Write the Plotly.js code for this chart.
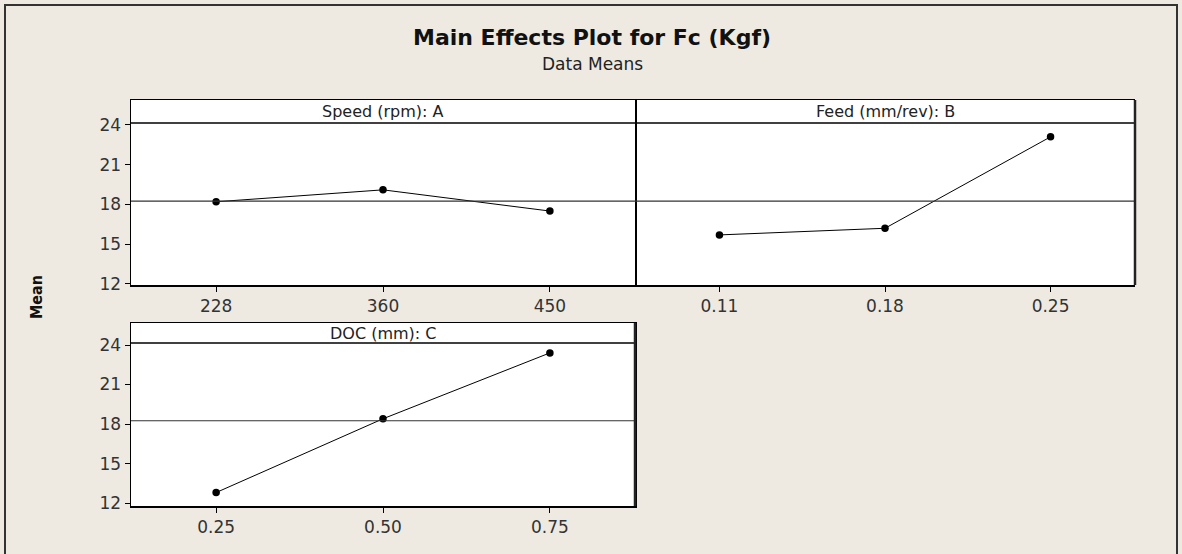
<!DOCTYPE html>
<html>
<head>
<meta charset="utf-8">
<script src="https://cdn.plot.ly/plotly-3.0.1.min.js"></script>
<style>
html,body{margin:0;padding:0;background:#EEEAE1;}
#chart{width:1182px;height:554px;}
</style>
</head>
<body>
<div id="chart"></div>
<script>
// ---- Data ----
const speedLevels = ["228", "360", "450"];
const speedMeans  = [18.2, 19.1, 17.5];

const feedLevels  = ["0.11", "0.18", "0.25"];
const feedMeans   = [15.7, 16.2, 23.1];

const docLevels   = ["0.25", "0.50", "0.75"];
const docMeans    = [12.8, 18.4, 23.4];

const grandMean   = 18.25;
const yTicks      = [12, 15, 18, 21, 24];

const panelTitles = ["Speed (rpm): A", "Feed (mm/rev): B", "DOC (mm): C"];
const chartTitle  = "Main Effects Plot for Fc (Kgf)";
const chartSub    = "Data Means";
const yTitle      = "Mean";

// ---- Layout helpers ----
const W = 1182, H = 554;
const px = v => v / W;
const py = v => 1 - v / H;
const FONT = "DejaVu Sans";
const FONTC = "DejaVu Sans Condensed";

function trace(x, y, xa, ya) {
  return {
    x: x, y: y, xaxis: xa, yaxis: ya, type: "scatter", mode: "lines+markers",
    line: {color: "#000", width: 1},
    marker: {color: "#000", size: 7.5},
    hoverinfo: "x+y", showlegend: false
  };
}

const data = [
  trace(speedLevels, speedMeans, "x", "y"),
  trace(feedLevels, feedMeans, "x2", "y2"),
  trace(docLevels, docMeans, "x3", "y3")
];

const TICKFONT = {family: FONT, size: 17, color: "#333"};

function xaxis(domain, cats, anchor) {
  return {
    domain: domain, anchor: anchor, type: "category", categoryarray: cats, range: [-0.51, 2.51],
    showline: true, mirror: true, linecolor: "#000", linewidth: 1.5,
    ticks: "outside", ticklen: 5, tickcolor: "#000", tickwidth: 1,
    showgrid: false, zeroline: false,
    tickfont: TICKFONT, fixedrange: true
  };
}
function yaxis(domain, range, anchor, showLabels) {
  return {
    domain: domain, range: range, anchor: anchor,
    tickvals: yTicks, showticklabels: showLabels,
    showline: showLabels, mirror: true, linecolor: "#000", linewidth: 1.5,
    ticks: showLabels ? "outside" : "", ticklen: 5, tickcolor: "#000", tickwidth: 1,
    showgrid: false, zeroline: false,
    tickfont: TICKFONT, fixedrange: true
  };
}

const domAx = [px(131), px(635)];
const domBx = [px(635), px(1135)];
const domTopY = [py(285), py(100)];
const domBotY = [py(506), py(323)];

const headerY = 24.15;

function hLine(xa, ya, y, color, width) {
  return {type: "line", xref: xa + " domain", yref: ya, x0: 0, x1: 1, y0: y, y1: y,
          line: {color: color, width: width}};
}
function vEdge(xa, ya, color, width) {
  return {type: "line", xref: xa + " domain", yref: ya + " domain", x0: 1, x1: 1, y0: 0, y1: 1,
          line: {color: color, width: width}};
}

const shapes = [
  hLine("x", "y", headerY, "#000", 1.5),
  hLine("x2", "y2", headerY, "#000", 1.5),
  hLine("x3", "y3", headerY, "#000", 1.5),
  hLine("x", "y", grandMean, "#333", 1.2),
  hLine("x2", "y2", grandMean, "#333", 1.2),
  hLine("x3", "y3", grandMean, "#333", 1.2),
  vEdge("x2", "y2", "#222", 2.5),
  vEdge("x3", "y3", "#222", 2.5),
  {type: "rect", xref: "paper", yref: "paper", x0: px(5), x1: px(1177), y0: -0.05, y1: py(5),
   line: {color: "#333", width: 2}}
];

function headerAnn(xa, ya, text) {
  return {text: text, xref: xa + " domain", yref: ya + " domain", x: 0.5, y: 0.94,
          xanchor: "center", yanchor: "middle", showarrow: false,
          font: {family: FONT, size: 16, color: "#222"}};
}

const annotations = [
  headerAnn("x", "y", panelTitles[0]),
  headerAnn("x2", "y2", panelTitles[1]),
  headerAnn("x3", "y3", panelTitles[2]),
  {text: "<b>" + chartTitle + "</b>", xref: "paper", yref: "paper", x: px(592), y: py(38),
   xanchor: "center", yanchor: "middle", showarrow: false,
   font: {family: FONT, size: 22, color: "#111"}},
  {text: chartSub, xref: "paper", yref: "paper", x: px(592), y: py(64),
   xanchor: "center", yanchor: "middle", showarrow: false,
   font: {family: FONT, size: 17, color: "#222"}},
  {text: "<b>" + yTitle + "</b>", xref: "paper", yref: "paper", x: px(36), y: py(297),
   xanchor: "center", yanchor: "middle", showarrow: false, textangle: -90,
   font: {family: FONTC, size: 16, color: "#111"}}
];

const layout = {
  width: W, height: H,
  margin: {l: 0, r: 0, t: 0, b: 0},
  paper_bgcolor: "#EEEAE1",
  plot_bgcolor: "#FFFFFF",
  showlegend: false,
  xaxis: xaxis(domAx, speedLevels, "y"),
  yaxis: yaxis(domTopY, [11.92, 25.88], "x", true),
  xaxis2: xaxis(domBx, feedLevels, "y2"),
  yaxis2: yaxis(domTopY, [11.92, 25.88], "x2", false),
  xaxis3: xaxis(domAx, docLevels, "y3"),
  yaxis3: yaxis(domBotY, [11.78, 25.67], "x3", true),
  shapes: shapes,
  annotations: annotations
};

Plotly.newPlot("chart", data, layout, {displayModeBar: false, staticPlot: true});
</script>
</body>
</html>
